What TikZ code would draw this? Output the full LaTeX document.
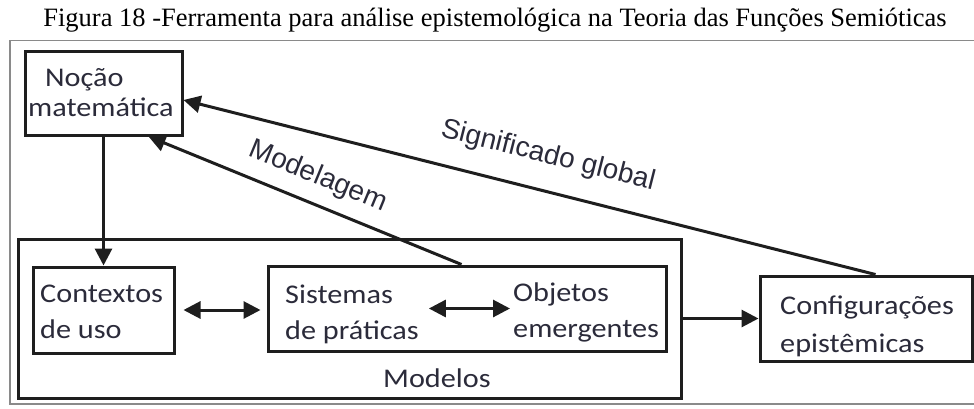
\documentclass[tikz,border=0pt]{standalone}
\usepackage{fontspec}
\setmainfont{Liberation Serif}
\newfontfamily\boxfont[FakeStretch=1.12]{Carlito}
\newfontfamily\lblfont{Liberation Sans}
\usetikzlibrary{arrows.meta,calc}
\definecolor{ln}{HTML}{1E1E1E}
\definecolor{txt}{HTML}{2B2B3A}
\definecolor{framec}{HTML}{8A8A8A}
\begin{document}
\begin{tikzpicture}[x=1pt,y=-1pt,
 box/.style={draw=ln, line width=3pt, inner sep=0pt},
 btxt/.style={font=\boxfont\fontsize{27}{36}\selectfont, text=txt, align=left, inner sep=0pt},
 arr/.style={draw=ln, line width=3pt, -{Triangle[length=17pt,width=17pt]}},
 darr/.style={draw=ln, line width=3pt, {Triangle[length=17pt,width=17pt]}-{Triangle[length=17pt,width=17pt]}},
 lbl/.style={font=\lblfont\fontsize{28}{32}\selectfont, text=txt, inner sep=0pt}]
\useasboundingbox (0,0) rectangle (974,408);
\fill[white] (0,0) rectangle (974,408);
% title
\node[anchor=base, font=\fontsize{26.5}{30}\selectfont, inner sep=0pt] (title) at (495,26) {Figura 18 -Ferramenta para análise epistemológica na Teoria das Funções Semióticas};
% frame
\draw[framec, line width=1.5pt] (974,40.5) -- (10,40.5) -- (10,404) -- (974,404);
% boxes
\node[box, minimum width=157pt, minimum height=84pt] (noc) at (103.5,93) {};
\node[box, minimum width=663pt, minimum height=159pt] (mod) at (349.5,318.5) {};
\node[box, minimum width=141pt, minimum height=86pt] (ctx) at (103.5,310) {};
\node[box, minimum width=398pt, minimum height=85pt] (sis) at (467,308.5) {};
\node[box, minimum width=212pt, minimum height=85pt] (cfg) at (866,318.5) {};
% texts
\node[btxt, font=\boxfont\fontsize{27}{30}\selectfont, anchor=west] (noctxt) at (28,93) {\hspace{17pt}Noção\\matemática};
\node[btxt, anchor=west] (ctxtxt) at (40,312) {Contextos\\de uso};
\node[btxt, anchor=west] (sistxt) at (285,314) {Sistemas\\de práticas};
\node[btxt, anchor=west] (objtxt) at (513,312) {Objetos\\emergentes};
\node[btxt, font=\boxfont\fontsize{27}{38}\selectfont, anchor=west] (cfgtxt) at (780,326) {Configurações\\epistêmicas};
\node[btxt, anchor=base west] (modtxt) at (383,387) {Modelos};
% connectors
\draw[arr] (noc.south) -- (ctx.north);
\draw[darr, shorten <=8pt, shorten >=6pt] (ctx.east) -- (ctx.east -| sis.west);
\draw[darr, shorten <=10pt, shorten >=3pt] (sis.center -| sistxt.east) -- (sis.center -| objtxt.west);
\draw[arr] (mod.east |- cfg.west) -- (cfg.west);
\draw[arr] ([xshift=195pt]sis.north west) -- ([xshift=125pt]noc.south west);
\draw[arr] ([xshift=117pt]cfg.north west) -- ([yshift=-7pt]noc.east);
% labels
\node[lbl, rotate=-14.2] (sig) at (548,156) {Significado global};
\node[lbl, rotate=-22.4] (modl) at (318,177) {Modelagem};
\end{tikzpicture}
\end{document}
